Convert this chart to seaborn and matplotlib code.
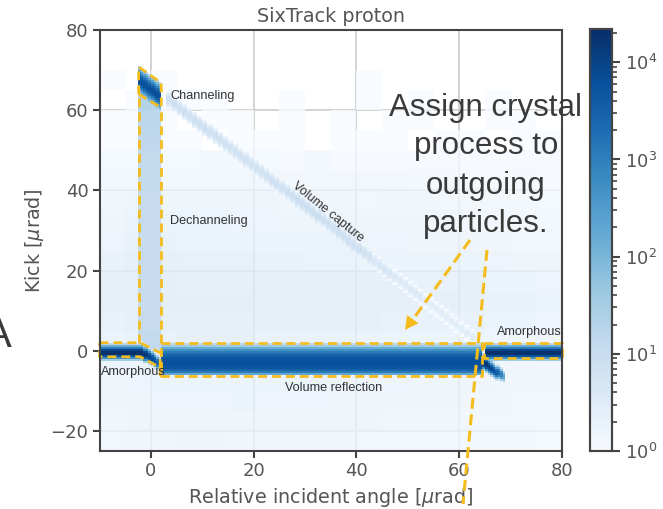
"""
plot.py
SixTrack proton: kick vs relative incident angle, with crystal process regions.
"""

import numpy as np
import pandas as pd
import matplotlib
matplotlib.use("Agg")
import matplotlib.pyplot as plt
import seaborn as sns
from matplotlib.colors import LogNorm
from matplotlib.lines import Line2D

# ── Data: counts ─────────────────────────────────────────────────────────────
X_TICKS = [0, 20, 40, 60, 80]
Y_TICKS = [-20, 0, 20, 40, 60, 80]

# background, cells of 5 x 5 urad, first row is y = 75..80, last is y = -25..-20
bg_counts = [
    [0, 0, 0, 0, 0, 0, 0, 0, 0, 0, 0, 0, 0, 0, 0, 0, 0, 0],
    [0, 0, 0, 0, 0, 0, 0, 0, 0, 0, 0, 0, 0, 0, 0, 0, 0, 0],
    [1, 0, 1, 0, 0, 0, 0, 0, 0, 0, 1, 0, 0, 0, 0, 0, 0, 0],
    [0, 1, 1, 1, 1, 0, 0, 1, 0, 0, 1, 0, 1, 0, 0, 1, 0, 0],
    [1, 1, 1, 0, 1, 1, 0, 1, 0, 1, 0, 1, 1, 0, 0, 1, 1, 0],
    [1, 1, 1, 1, 0, 1, 1, 1, 0, 1, 1, 1, 0, 1, 1, 0, 1, 1],
    [1.3, 1.3, 1.3, 1.3, 1.4, 1.3, 1.3, 1.2, 1.4, 1.2, 1.2, 1.2, 1.2, 1.2, 1.2, 1.2, 1.2, 1.2],
    [1.5, 1.6, 1.6, 1.6, 1.6, 1.5, 1.6, 1.5, 1.5, 1.5, 1.5, 1.5, 1.4, 1.4, 1.3, 1.3, 1.4, 1.2],
    [1.7, 1.9, 1.9, 1.9, 1.9, 1.9, 1.8, 1.7, 1.7, 1.7, 1.6, 1.7, 1.7, 1.5, 1.5, 1.5, 1.4, 1.3],
    [1.9, 2.3, 2.3, 2.3, 2.2, 2.1, 2.1, 1.9, 1.9, 1.9, 1.8, 1.8, 1.8, 1.7, 1.7, 1.6, 1.5, 1.4],
    [2.1, 2.6, 2.6, 2.5, 2.3, 2.3, 2.3, 2.2, 2.2, 2.2, 2.1, 2.1, 1.9, 1.8, 1.8, 1.7, 1.6, 1.5],
    [2.6, 2.9, 2.9, 2.7, 2.7, 2.7, 2.6, 2.6, 2.5, 2.5, 2.3, 2.3, 2.2, 2.2, 2.2, 2.1, 1.9, 1.8],
    [2.9, 3.1, 3.4, 3.1, 3.1, 3.0, 2.9, 2.9, 2.9, 2.9, 2.9, 2.9, 2.6, 2.6, 2.9, 2.3, 2.2, 2.1],
    [2.9, 3.1, 3.4, 3.4, 3.4, 3.3, 3.1, 3.1, 3.1, 3.1, 2.9, 2.9, 2.9, 2.9, 2.9, 2.6, 2.6, 2.3],
    [2.6, 2.9, 3.1, 3.1, 3.1, 3.1, 2.9, 2.9, 2.9, 2.9, 2.9, 2.6, 2.6, 2.6, 2.6, 2.3, 2.2, 2.1],
    [2.3, 2.6, 2.6, 2.9, 2.9, 2.9, 2.6, 2.6, 2.6, 2.6, 2.3, 2.3, 2.3, 2.3, 2.2, 2.1, 1.9, 1.8],
    [2.2, 2.3, 2.3, 2.5, 2.6, 2.5, 2.5, 2.3, 2.3, 2.3, 2.2, 2.2, 2.2, 2.1, 2.1, 1.9, 1.8, 1.7],
    [1.9, 2.1, 2.2, 2.3, 2.3, 2.3, 2.2, 2.2, 2.2, 2.1, 2.1, 2.1, 1.9, 1.9, 1.8, 1.8, 1.7, 1.7],
    [1.8, 1.9, 2.1, 2.1, 2.1, 2.2, 2.1, 2.1, 2.1, 1.9, 1.9, 1.8, 1.8, 1.8, 1.7, 1.7, 1.6, 1.6],
    [1.7, 1.8, 1.8, 1.9, 1.9, 1.9, 1.8, 1.8, 1.8, 1.8, 1.8, 1.7, 1.7, 1.7, 1.6, 1.6, 1.6, 1.4],
    [1.6, 1.7, 1.7, 1.8, 1.8, 1.7, 1.7, 1.7, 1.7, 1.7, 1.6, 1.6, 1.6, 1.6, 1.4, 1.4, 1.4, 1.3],
]

# vertical profiles, in steps of 0.5 urad from the top of each band down
amorphous_profile = [15, 150, 1200, 10000, 20000, 20000, 6000, 600, 40]
reflection_profile = [15, 40, 150, 500, 1200, 2200, 3500, 5000, 6000, 6500,
                      6500, 6000, 5000, 3000, 1200, 200]
channeling_profile = [20, 80, 250, 800, 2000, 4000, 6000, 7000, 6000, 3500, 1500, 500, 150, 40]
capture_profile = [0.25, 0.5, 0.8, 1.0, 1.0, 0.8, 0.5, 0.25]

# transition from amorphous to reflection
bend_x = [-2, -1.5, -1, -0.5, 0, 0.5, 1, 1.5]
bend_top = [2, 1.5, 1.5, 1, 0.5, 0, -0.5, -1]
bend_scale = [1, 0.9, 0.7, 0.5, 0.35, 0.25, 0.15, 0.12]

# tail past the reflection band
tail_x = [64.5, 65, 65.5, 66, 66.5, 67, 67.5, 68, 68.5]
tail_top = [-0.5, -1, -1.5, -2, -2.5, -3, -3, -3.5, -4]
tail_scale = [1, 0.8, 0.6, 0.4, 0.3, 0.2, 0.12, 0.05, 0.01]

# channeling spot, top of the spot per column
channel_x = [-2.5, -2, -1.5, -1, -0.5, 0, 0.5, 1, 1.5]
channel_top = [71, 70.5, 70, 69.5, 69, 68.5, 68, 67.5, 67]

# dechanneling column, one count per 5 urad from y = 0 upwards
dechannel_y = [0, 5, 10, 15, 20, 25, 30, 35, 40, 45, 50, 55, 60]
dechannel_counts = [14, 12, 11, 11, 11, 11, 12, 12, 13, 14, 15, 17, 22]

# volume capture line, one centre per urad from x = 3
capture_x = list(range(3, 63))
capture_y = [62.3, 61.3, 60.3, 59.3, 58.3, 57.3, 56.3, 55.3, 54.3, 53.3,
             52.3, 51.3, 50.3, 49.3, 48.3, 47.3, 46.3, 45.3, 44.3, 43.3,
             42.3, 41.3, 40.3, 39.3, 38.3, 37.3, 36.3, 35.3, 34.3, 33.3,
             32.3, 31.3, 30.3, 29.3, 28.3, 27.3, 26.3, 25.3, 24.3, 23.3,
             22.3, 21.3, 20.3, 19.3, 18.3, 17.3, 16.3, 15.3, 14.3, 13.3,
             12.3, 11.3, 10.3, 9.3, 8.3, 7.3, 6.3, 5.3, 4.3, 3.3]
capture_counts = [8, 8, 8, 8, 8, 8, 8, 8, 8, 8,
                  7, 7, 7, 7, 7, 7, 7, 7, 7, 7,
                  8, 8, 8, 8, 8, 9, 9, 9, 9, 9,
                  8, 8, 8, 8, 8, 8, 8, 8, 7, 7,
                  5, 5, 5, 5, 4, 4, 4, 4, 4, 4,
                  3, 3, 3, 3, 3, 3, 3, 3, 3, 3]

# outlines of the process regions (x, y)
amorphous_left_box = [(-10, 2), (-2.1, 2), (1.8, -0.5), (1.8, -6), (1.8, -4.2), (-2.1, -1.5), (-10, -1.5), (-10, 2)]
column_left = [(-2.4, 2), (-2.4, 64)]
column_right = [(2, 2), (2, 60.6)]
channel_box = [(-2.4, 64), (-2.4, 70.8), (2, 66.8), (2, 60.6), (-2.4, 64)]
reflection_box = [(2, 2), (64.5, 2), (64.5, -6.2), (2, -6.2), (2, 2)]
amorphous_right_box = [(64.8, 2), (80, 2), (80, -1.7), (64.8, -1.7), (64.8, 2)]

# ── Style ────────────────────────────────────────────────────────────────────
YELLOW = "#f4bc1c"
TEXT_GREY = "#555555"
DARK = "#444444"

sns.set_theme(style="whitegrid", rc={
    "axes.edgecolor": DARK, "axes.linewidth": 1.5,
    "xtick.bottom": True, "ytick.left": True,
    "xtick.color": DARK, "ytick.color": DARK,
    "xtick.labelcolor": TEXT_GREY, "ytick.labelcolor": TEXT_GREY,
    "axes.labelcolor": TEXT_GREY, "text.color": TEXT_GREY,
    "xtick.major.size": 5, "ytick.major.size": 5,
    "xtick.major.width": 1.5, "ytick.major.width": 1.5,
})
plt.rcParams["font.family"] = ["DejaVu Sans"]

W, H = 663, 509


def px(x, y):
    """Reference pixel to figure fraction."""
    return x / W, 1 - y / H


def band_cells(xs, tops, profile, scales):
    rows = []
    for x, top, s in zip(xs, tops, scales):
        for i, c in enumerate(profile):
            rows.append((x + 0.25, top - 0.25 - i * 0.5, c * s))
    return rows


def build_bg():
    rows = []
    for r, line in enumerate(bg_counts):
        for c, v in enumerate(line):
            rows.append((-10 + 5 * c + 2.5, 77.5 - 5 * r, v))
    return pd.DataFrame(rows, columns=["x", "y", "n"])


def build_features():
    rows = []
    # amorphous bands
    left_x = list(np.arange(-10, -2, 0.5))
    rows += band_cells(left_x, [2] * len(left_x), amorphous_profile, [1] * len(left_x))
    right_x = list(np.arange(65, 80, 0.5))
    rows += band_cells(right_x, [2] * len(right_x), amorphous_profile, [1] * len(right_x))
    rows += band_cells(bend_x, bend_top, amorphous_profile, bend_scale)
    # volume reflection
    refl_x = list(np.arange(2, 64.5, 0.5))
    rows += band_cells(refl_x, [2] * len(refl_x), reflection_profile, [1] * len(refl_x))
    rows += band_cells(tail_x, tail_top, amorphous_profile, tail_scale)
    # dechanneling column and channeling spot
    for y0, n in zip(dechannel_y, dechannel_counts):
        for x in channel_x:
            for y in np.arange(y0, y0 + 5, 0.5):
                top = channel_top[channel_x.index(x)] - 3
                if y < top and y > 2 - (x + 2):
                    rows.append((x + 0.25, y + 0.25, n))
    rows += band_cells(channel_x, channel_top, channeling_profile, [1] * len(channel_x))
    # volume capture
    for x, y, n in zip(capture_x, capture_y, capture_counts):
        for xx in (x, x + 0.5):
            for i, p in enumerate(capture_profile):
                rows.append((xx + 0.25, y + 1.75 - i * 0.5, n * p))
    return pd.DataFrame(rows, columns=["x", "y", "n"])


def outline(ax, points, **kws):
    xs, ys = zip(*points)
    ax.plot(xs, ys, color=YELLOW, lw=2.0, ls=(0, (3.2, 1.8)), zorder=4, clip_on=False, **kws)


if __name__ == "__main__":
    fig = plt.figure(figsize=(W / 100, H / 100), dpi=100, facecolor="white")
    ax = fig.add_axes([99.6 / W, 1 - 451 / H, 462.4 / W, 421 / H])
    cax = fig.add_axes([590 / W, 1 - 451 / H, 22 / W, 422 / H])
    norm = LogNorm(vmin=1, vmax=22000)

    x_edges = np.arange(-10, 80.01, 0.5)
    y_edges = np.arange(-25, 80.01, 0.5)

    sns.histplot(build_bg(), x="x", y="y", weights="n",
                 bins=[np.arange(-10, 80.01, 5), np.arange(-25, 80.01, 5)],
                 cmap="Blues", norm=norm, vmin=None, vmax=None, alpha=0.8,
                 zorder=1, ax=ax)
    sns.histplot(build_features(), x="x", y="y", weights="n",
                 bins=[x_edges, y_edges],
                 cmap="Blues", norm=norm, vmin=None, vmax=None, zorder=2,
                 cbar=True, cbar_ax=cax, ax=ax)
    cbar = ax.collections[-1].colorbar
    cbar.solids.set_edgecolor("face")

    ax.set_xlim(-10, 80)
    ax.set_ylim(-25, 80)
    ax.set_xticks(X_TICKS)
    ax.set_yticks(Y_TICKS)
    ax.tick_params(labelsize=13, pad=3)
    ax.grid(True, color="#cccccc", lw=1.2)
    ax.set_axisbelow(True)
    ax.set_xlabel(r"Relative incident angle [$\mu$rad]", fontsize=13.8, labelpad=4)
    ax.set_ylabel(r"Kick [$\mu$rad]", fontsize=13.8, labelpad=3)
    ax.set_title("SixTrack proton", fontsize=13.8, pad=6)
    for spine in ax.spines.values():
        spine.set_zorder(5)

    cax.tick_params(which="major", labelsize=13, length=6, width=1.5, color=DARK, left=False, right=True)
    cax.tick_params(which="minor", length=3.5, width=1.2, color=DARK, left=False, right=True)
    cax.grid(False)
    for spine in cax.spines.values():
        spine.set_edgecolor(DARK)
        spine.set_linewidth(1.5)
        spine.set_visible(True)

    # process regions
    for box in (amorphous_left_box, column_left, column_right, channel_box,
                reflection_box, amorphous_right_box):
        outline(ax, box)

    # labels inside the plot
    label_kws = dict(family="Liberation Sans", color="#333333", fontsize=9.1, zorder=6)
    ax.text(3.7, 63.5, "Channeling", va="center", **label_kws)
    ax.text(3.7, 32.3, "Dechanneling", va="center", **label_kws)
    ax.text(26, -9.3, "Volume reflection", va="center", **label_kws)
    ax.text(67.3, 4.8, "Amorphous", va="center", **label_kws)
    ax.text(-9.7, -5.3, "Amorphous", va="center", **label_kws)
    ax.text(34.4, 34.7, "Volume capture", rotation=-39, ha="center", va="center",
            rotation_mode="anchor", **label_kws)

    # slide overlay
    for txt, yy in zip(["Assign crystal", "process to", "outgoing", "particles."],
                       [108, 146, 186, 224]):
        fig.text(*px(486, yy), txt, family="Liberation Sans", fontsize=22.5,
                 color="#3a3a3a", ha="center", va="center", zorder=10)
    fig.text(*px(-2, 336), "A", family="Liberation Sans", fontsize=30,
             color="#3a3a3a", ha="center", va="center")

    dash = dict(color=YELLOW, lw=2.2, ls=(0, (3.6, 1.8)), zorder=9)
    a0, a1 = px(470, 240), px(414, 318)
    fig.add_artist(Line2D([a0[0], a1[0]], [a0[1], a1[1]], **dash))
    ax.annotate("", xy=px(405, 330), xytext=px(415, 316), xycoords="figure fraction",
                textcoords="figure fraction", zorder=9, annotation_clip=False,
                arrowprops=dict(arrowstyle="-|>,head_length=0.8,head_width=0.42",
                                color=YELLOW, lw=0, shrinkA=0, shrinkB=0))
    b0, b1 = px(487, 250), px(463, 504)
    fig.add_artist(Line2D([b0[0], b1[0]], [b0[1], b1[1]], **dash))

    fig.savefig("out.png", dpi=100)
